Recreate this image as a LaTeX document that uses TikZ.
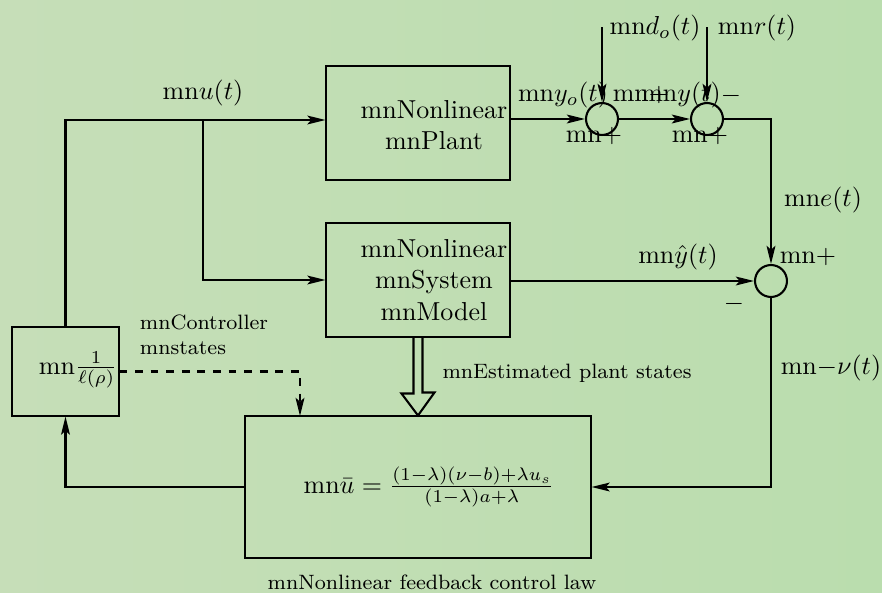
\documentclass[tikz,border=0pt]{standalone}
\usepackage{amsmath,amssymb}
\usepackage{xcolor}
\usepackage{tikz}
\usetikzlibrary{arrows.meta,positioning,fit,calc}
\definecolor{bgleft}{HTML}{C6DEB8}
\definecolor{bgmid}{HTML}{A9D4C6}
\definecolor{bgright}{HTML}{BADDAE}

\begin{document}
\begin{tikzpicture}[x=0.385pt, y=-0.385pt, line width=0.8pt,
  box/.style={draw, line width=0.4pt, inner sep=0pt},
  sum/.style={draw, circle, minimum size=12.3pt, inner sep=0pt},
  lbl/.style={inner sep=1pt},
  note/.style={font=\footnotesize, align=left, inner sep=1pt},
  arr/.style={-{Stealth[length=7pt, width=3.4pt, inset=1.5pt]}}]
\fill[left color=bgleft, middle color=bgmid, right color=bgright] (0,0) rectangle (882,593);
\useasboundingbox (0,0) rectangle (882,593);
% blocks
\node[box, fit={(326,66) (510,180)}] (plant) {};
\node[lbl, align=center] (plantname) at (434,125) {mnNonlinear\\mnPlant};
\node[box, fit={(326,223) (510,337)}] (model) {};
\node[lbl, align=center] (modelname) at (434,280) {mnNonlinear\\mnSystem\\mnModel};
\node[box, fit={(12,327) (119,416)}] (ctrl) {};
\node[lbl] (gain) at (78,370) {mn$\frac{1}{\ell(\rho)}$};
\node[box, fit={(245,416) (591,558)}] (law) {};
\node[lbl] (lawf) at (429,487) {mn$\bar{u}=\frac{(1-\lambda)(\nu-b)+\lambda u_s}{(1-\lambda)a+\lambda}$};
\node[sum] (s1) at (602,119) {};
\node[sum] (s2) at (707,119) {};
\node[sum] (s3) at (771,281) {};
\coordinate (branch) at (203,120);
\coordinate (dtop) at (602,27);
\coordinate (rtop) at (707,27);
\coordinate (lawin) at (300,416);
% signals
\draw[arr] (ctrl.north) |- (branch) -- (branch -| plant.west);
\draw[arr] (branch) |- (model.west);
\draw[arr] (plant.east |- s1) -- (s1);
\draw[arr] (s1) -- (s2);
\draw[arr] (s2) -| (s3);
\draw[arr] (dtop) -- (s1);
\draw[arr] (rtop) -- (s2);
\draw[arr] (model.east |- s3) -- (s3);
\draw[arr] (s3) |- (law.east);
\draw[arr] (law.west) -| (ctrl.south);
\draw[arr, dashed] (ctrl.east) -| (lawin);
\draw ($(model.south)+(-4.5,0)$) -- ++(0,56) -- ++(-12,0) -- (law.north)
  -- ($(law.north)+(16.5,-23)$) -- ++(-12,0) -- ($(model.south)+(4.5,0)$);
% labels
\node[lbl] (ulbl) at (203,93) {mn$u(t)$};
\node[lbl] (yolbl) at (563,95) {mn$y_o(t)$};
\node[lbl] (p1a) at (641,95) {mn$+$};
\node[lbl] (ylbl) at (681,95) {mn$y(t)$};
\node[lbl] (m2a) at (731,96) {$-$};
\node[lbl] (p1b) at (594,136) {mn$+$};
\node[lbl] (p2b) at (700,136) {mn$+$};
\node[lbl] (dlbl) at (655,28) {mn$d_o(t)$};
\node[lbl] (rlbl) at (757,28) {mn$r(t)$};
\node[lbl] (elbl) at (823,200) {mn$e(t)$};
\node[lbl] (p3a) at (808,257) {mn$+$};
\node[lbl] (yhlbl) at (678,257) {mn$\hat{y}(t)$};
\node[lbl] (m3b) at (734,304) {$-$};
\node[lbl] (nulbl) at (831,368) {mn$-\nu(t)$};
\node[note] (ctrlst) at (204,335) {mnController\\mnstates};
\node[note] (estlbl) at (567,373) {mnEstimated plant states};
\node[note] (lawlbl) at (432,582) {mnNonlinear feedback control law};
\end{tikzpicture}
\end{document}
